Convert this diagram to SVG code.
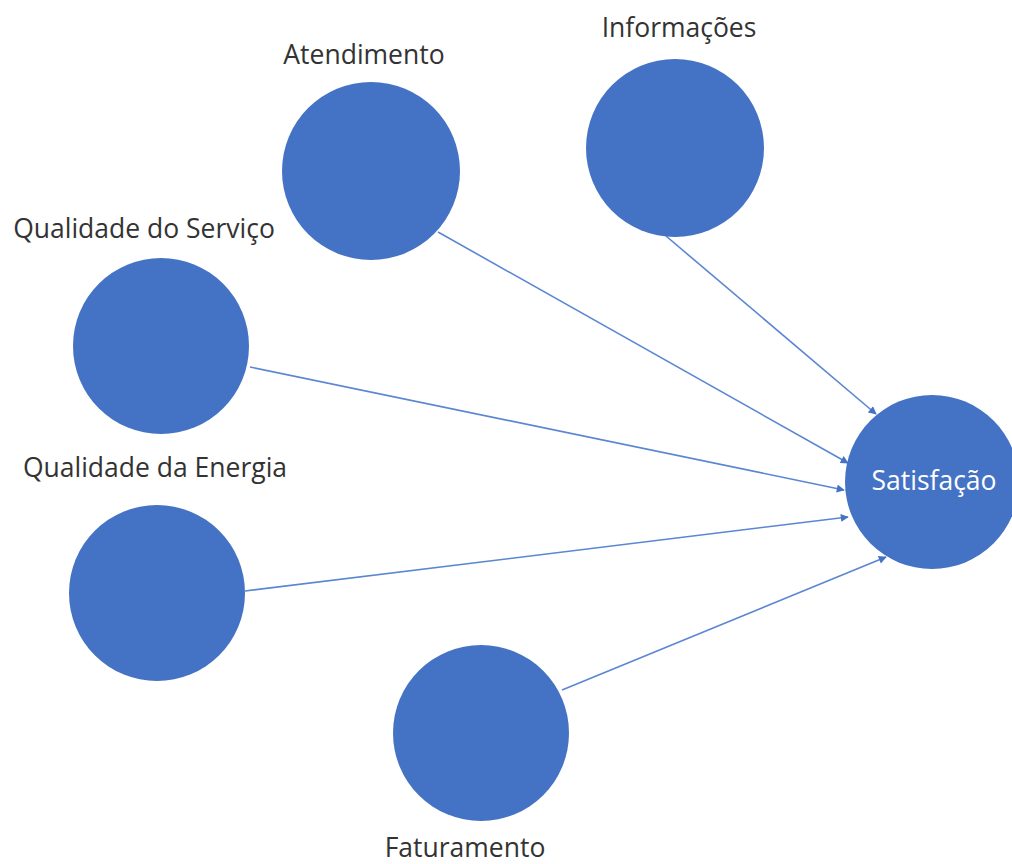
<svg xmlns="http://www.w3.org/2000/svg" width="1012" height="864" viewBox="0 0 1012 864">
  <style>
    .node { fill: #4472C4; }
    .label { font-family: "Open Sans", "Liberation Sans", sans-serif; font-size: 26.5px; fill: #333333; text-anchor: middle; }
    .inner { fill: #ffffff; }
    .edge { stroke: #5A86D2; stroke-width: 1.6; fill: none; marker-end: url(#arrow); }
  </style>
  <defs>
    <marker id="arrow" viewBox="0 0 10 10" refX="9" refY="5" markerWidth="9" markerHeight="8" markerUnits="userSpaceOnUse" orient="auto">
      <path d="M0,0 L10,5 L0,10 z" fill="#4472C4"/>
    </marker>
  </defs>
  <rect width="1012" height="864" fill="#ffffff"/>

  <g id="connectors">
    <line class="edge" x1="666" y1="236" x2="876" y2="414"/>
    <line class="edge" x1="438" y1="232" x2="848" y2="463"/>
    <line class="edge" x1="250" y1="367" x2="844" y2="490"/>
    <line class="edge" x1="245" y1="591" x2="848" y2="517"/>
    <line class="edge" x1="562" y1="690" x2="886" y2="557"/>
  </g>

  <g id="atendimento">
    <circle class="node" cx="371" cy="171" r="89"/>
    <text class="label" x="364" y="64">Atendimento</text>
  </g>
  <g id="informacoes">
    <circle class="node" cx="675" cy="148" r="89"/>
    <text class="label" x="679" y="37">Informações</text>
  </g>
  <g id="qualidade-servico">
    <circle class="node" cx="161" cy="346" r="88"/>
    <text class="label" x="144" y="238">Qualidade do Serviço</text>
  </g>
  <g id="qualidade-energia">
    <circle class="node" cx="157" cy="593" r="88"/>
    <text class="label" x="155" y="477">Qualidade da Energia</text>
  </g>
  <g id="faturamento">
    <circle class="node" cx="481" cy="733" r="88"/>
    <text class="label" x="465" y="857">Faturamento</text>
  </g>
  <g id="satisfacao">
    <circle class="node" cx="932" cy="482" r="87"/>
    <text class="label inner" x="934" y="490">Satisfação</text>
  </g>
</svg>
